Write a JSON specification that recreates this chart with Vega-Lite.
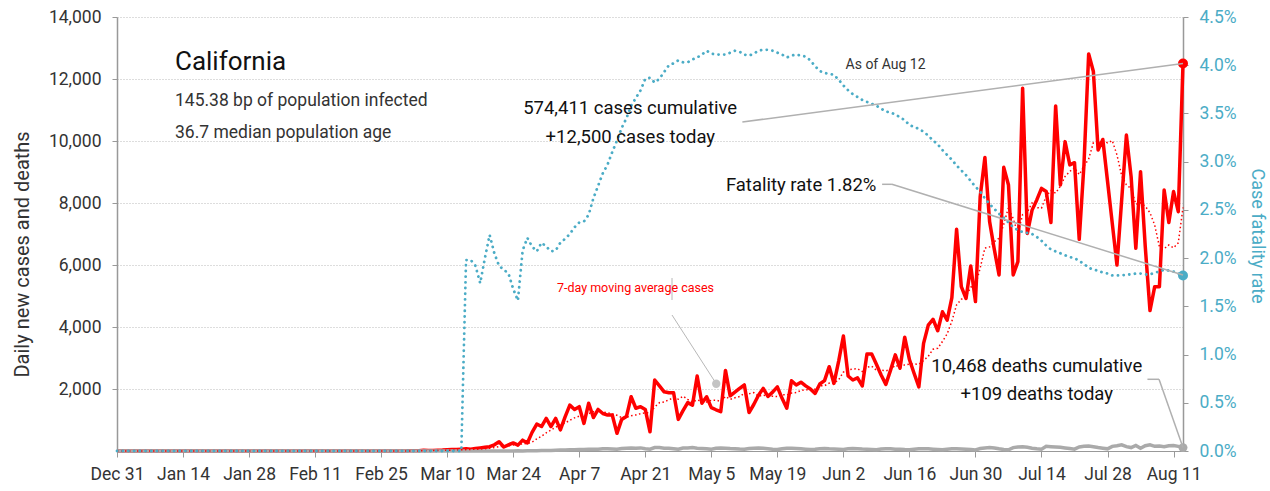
{
"$schema":"https://vega.github.io/schema/vega-lite/v6.json",
"width":1066,"height":434,
"autosize":{"type":"none"},
"padding":{"left":117,"top":17,"right":87,"bottom":40},
"background":"white",
"config":{"view":{"stroke":null},"font":"Roboto"},
"datasets":{"covid":[
{"date":"2019-12-31","cases":0,"deaths":0,"rate":0},
{"date":"2020-01-01","cases":0,"deaths":0,"rate":0},{"date":"2020-01-02","cases":0,"deaths":0,"rate":0},{"date":"2020-01-03","cases":0,"deaths":0,"rate":0},{"date":"2020-01-04","cases":0,"deaths":0,"rate":0},{"date":"2020-01-05","cases":0,"deaths":0,"rate":0},{"date":"2020-01-06","cases":0,"deaths":0,"rate":0},{"date":"2020-01-07","cases":0,"deaths":0,"rate":0},{"date":"2020-01-08","cases":0,"deaths":0,"rate":0},{"date":"2020-01-09","cases":0,"deaths":0,"rate":0},{"date":"2020-01-10","cases":0,"deaths":0,"rate":0},
{"date":"2020-01-11","cases":0,"deaths":0,"rate":0},{"date":"2020-01-12","cases":0,"deaths":0,"rate":0},{"date":"2020-01-13","cases":0,"deaths":0,"rate":0},{"date":"2020-01-14","cases":0,"deaths":0,"rate":0},{"date":"2020-01-15","cases":0,"deaths":0,"rate":0},{"date":"2020-01-16","cases":0,"deaths":0,"rate":0},{"date":"2020-01-17","cases":0,"deaths":0,"rate":0},{"date":"2020-01-18","cases":0,"deaths":0,"rate":0},{"date":"2020-01-19","cases":0,"deaths":0,"rate":0},{"date":"2020-01-20","cases":0,"deaths":0,"rate":0},
{"date":"2020-01-21","cases":0,"deaths":0,"rate":0},{"date":"2020-01-22","cases":0,"deaths":0,"rate":0},{"date":"2020-01-23","cases":0,"deaths":0,"rate":0},{"date":"2020-01-24","cases":0,"deaths":0,"rate":0},{"date":"2020-01-25","cases":0,"deaths":0,"rate":0},{"date":"2020-01-26","cases":0,"deaths":0,"rate":0},{"date":"2020-01-27","cases":0,"deaths":0,"rate":0},{"date":"2020-01-28","cases":0,"deaths":0,"rate":0},{"date":"2020-01-29","cases":0,"deaths":0,"rate":0},{"date":"2020-01-30","cases":0,"deaths":0,"rate":0},{"date":"2020-01-31","cases":0,"deaths":0,"rate":0},
{"date":"2020-02-01","cases":0,"deaths":0,"rate":0},{"date":"2020-02-02","cases":0,"deaths":0,"rate":0},{"date":"2020-02-03","cases":0,"deaths":0,"rate":0},{"date":"2020-02-04","cases":0,"deaths":0,"rate":0},{"date":"2020-02-05","cases":0,"deaths":0,"rate":0},{"date":"2020-02-06","cases":0,"deaths":0,"rate":0},{"date":"2020-02-07","cases":0,"deaths":0,"rate":0},{"date":"2020-02-08","cases":0,"deaths":0,"rate":0},{"date":"2020-02-09","cases":0,"deaths":0,"rate":0},{"date":"2020-02-10","cases":0,"deaths":0,"rate":0},
{"date":"2020-02-11","cases":0,"deaths":0,"rate":0},{"date":"2020-02-12","cases":0,"deaths":0,"rate":0},{"date":"2020-02-13","cases":0,"deaths":0,"rate":0},{"date":"2020-02-14","cases":0,"deaths":0,"rate":0},{"date":"2020-02-15","cases":0,"deaths":0,"rate":0},{"date":"2020-02-16","cases":0,"deaths":0,"rate":0},{"date":"2020-02-17","cases":0,"deaths":0,"rate":0},{"date":"2020-02-18","cases":0,"deaths":0,"rate":0},{"date":"2020-02-19","cases":0,"deaths":0,"rate":0},{"date":"2020-02-20","cases":0,"deaths":0,"rate":0},
{"date":"2020-02-21","cases":0,"deaths":0,"rate":0},{"date":"2020-02-22","cases":0,"deaths":0,"rate":0},{"date":"2020-02-23","cases":0,"deaths":0,"rate":0},{"date":"2020-02-24","cases":0,"deaths":0,"rate":0},{"date":"2020-02-25","cases":0,"deaths":0,"rate":0},{"date":"2020-02-26","cases":0,"deaths":0,"rate":0},{"date":"2020-02-27","cases":0,"deaths":0,"rate":0},{"date":"2020-02-28","cases":0,"deaths":0,"rate":0},{"date":"2020-02-29","cases":0,"deaths":0,"rate":0},
{"date":"2020-03-01","cases":2,"deaths":0,"rate":0},{"date":"2020-03-02","cases":5,"deaths":0,"rate":0},{"date":"2020-03-03","cases":8,"deaths":0,"rate":0},{"date":"2020-03-04","cases":10,"deaths":0,"rate":0},{"date":"2020-03-05","cases":25,"deaths":0,"rate":0},{"date":"2020-03-06","cases":15,"deaths":0,"rate":0},{"date":"2020-03-07","cases":20,"deaths":0,"rate":0},{"date":"2020-03-08","cases":25,"deaths":0,"rate":0},{"date":"2020-03-09","cases":30,"deaths":0,"rate":0},{"date":"2020-03-10","cases":40,"deaths":0,"rate":0},
{"date":"2020-03-11","cases":50,"deaths":0,"rate":0},{"date":"2020-03-12","cases":45,"deaths":0,"rate":0},{"date":"2020-03-13","cases":60,"deaths":0,"rate":0},{"date":"2020-03-14","cases":70,"deaths":0,"rate":0.0198},{"date":"2020-03-15","cases":55,"deaths":0,"rate":0.0198},{"date":"2020-03-16","cases":80,"deaths":1,"rate":0.0192},{"date":"2020-03-17","cases":100,"deaths":0,"rate":0.0174},{"date":"2020-03-18","cases":120,"deaths":0,"rate":0.0200},{"date":"2020-03-19","cases":140,"deaths":1,"rate":0.0224},{"date":"2020-03-20","cases":200,"deaths":1,"rate":0.0205},
{"date":"2020-03-21","cases":300,"deaths":2,"rate":0.0192},{"date":"2020-03-22","cases":130,"deaths":0,"rate":0.0188},{"date":"2020-03-23","cases":200,"deaths":3,"rate":0.0184},{"date":"2020-03-24","cases":260,"deaths":2,"rate":0.0168},{"date":"2020-03-25","cases":190,"deaths":5,"rate":0.0156},{"date":"2020-03-26","cases":350,"deaths":3,"rate":0.0208},{"date":"2020-03-27","cases":260,"deaths":8,"rate":0.0221},{"date":"2020-03-28","cases":600,"deaths":10,"rate":0.0212},{"date":"2020-03-29","cases":870,"deaths":12,"rate":0.0207},{"date":"2020-03-30","cases":790,"deaths":15,"rate":0.0216},{"date":"2020-03-31","cases":1050,"deaths":20,"rate":0.0212},
{"date":"2020-04-01","cases":790,"deaths":18,"rate":0.0207},{"date":"2020-04-02","cases":1050,"deaths":25,"rate":0.0208},{"date":"2020-04-03","cases":680,"deaths":30,"rate":0.0216},{"date":"2020-04-04","cases":1100,"deaths":35,"rate":0.0220},{"date":"2020-04-05","cases":1480,"deaths":40,"rate":0.0225},{"date":"2020-04-06","cases":1340,"deaths":38,"rate":0.0232},{"date":"2020-04-07","cases":1430,"deaths":45,"rate":0.0237},{"date":"2020-04-08","cases":890,"deaths":50,"rate":0.0238},{"date":"2020-04-09","cases":1540,"deaths":55,"rate":0.0245},{"date":"2020-04-10","cases":1080,"deaths":60,"rate":0.0262},
{"date":"2020-04-11","cases":1340,"deaths":58,"rate":0.0275},{"date":"2020-04-12","cases":1210,"deaths":70,"rate":0.0288},{"date":"2020-04-13","cases":1160,"deaths":75,"rate":0.0297},{"date":"2020-04-14","cases":1160,"deaths":65,"rate":0.0310},{"date":"2020-04-15","cases":570,"deaths":55,"rate":0.0322},{"date":"2020-04-16","cases":1020,"deaths":80,"rate":0.0335},{"date":"2020-04-17","cases":1110,"deaths":90,"rate":0.0345},{"date":"2020-04-18","cases":1750,"deaths":95,"rate":0.0358},{"date":"2020-04-19","cases":1380,"deaths":85,"rate":0.0366},{"date":"2020-04-20","cases":1430,"deaths":100,"rate":0.0374},
{"date":"2020-04-21","cases":1340,"deaths":70,"rate":0.0386},{"date":"2020-04-22","cases":620,"deaths":60,"rate":0.0387},{"date":"2020-04-23","cases":2290,"deaths":110,"rate":0.0382},{"date":"2020-04-24","cases":2100,"deaths":115,"rate":0.0386},{"date":"2020-04-25","cases":1910,"deaths":90,"rate":0.0393},{"date":"2020-04-26","cases":1880,"deaths":85,"rate":0.0400},{"date":"2020-04-27","cases":1880,"deaths":75,"rate":0.0402},{"date":"2020-04-28","cases":1020,"deaths":60,"rate":0.0405},{"date":"2020-04-29","cases":1300,"deaths":95,"rate":0.0403},{"date":"2020-04-30","cases":1560,"deaths":100,"rate":0.0403},
{"date":"2020-05-01","cases":1480,"deaths":110,"rate":0.0406},{"date":"2020-05-02","cases":2420,"deaths":90,"rate":0.0408},{"date":"2020-05-03","cases":1540,"deaths":80,"rate":0.0411},{"date":"2020-05-04","cases":1750,"deaths":70,"rate":0.0415},{"date":"2020-05-05","cases":1400,"deaths":60,"rate":0.0412},{"date":"2020-05-06","cases":1330,"deaths":85,"rate":0.0411},{"date":"2020-05-07","cases":1270,"deaths":95,"rate":0.0411},{"date":"2020-05-08","cases":2600,"deaths":90,"rate":0.0411},{"date":"2020-05-09","cases":1780,"deaths":80,"rate":0.0413},{"date":"2020-05-10","cases":1900,"deaths":75,"rate":0.0415},
{"date":"2020-05-11","cases":2020,"deaths":65,"rate":0.0414},{"date":"2020-05-12","cases":2130,"deaths":60,"rate":0.0411},{"date":"2020-05-13","cases":1240,"deaths":80,"rate":0.0410},{"date":"2020-05-14","cases":1500,"deaths":90,"rate":0.0412},{"date":"2020-05-15","cases":1800,"deaths":95,"rate":0.0415},{"date":"2020-05-16","cases":2020,"deaths":85,"rate":0.0416},{"date":"2020-05-17","cases":1760,"deaths":70,"rate":0.0416},{"date":"2020-05-18","cases":1900,"deaths":55,"rate":0.0415},{"date":"2020-05-19","cases":2070,"deaths":50,"rate":0.0413},{"date":"2020-05-20","cases":1700,"deaths":75,"rate":0.0411},
{"date":"2020-05-21","cases":1380,"deaths":90,"rate":0.0408},{"date":"2020-05-22","cases":2265,"deaths":85,"rate":0.0410},{"date":"2020-05-23","cases":2130,"deaths":80,"rate":0.0411},{"date":"2020-05-24","cases":2220,"deaths":70,"rate":0.0410},{"date":"2020-05-25","cases":2100,"deaths":60,"rate":0.0409},{"date":"2020-05-26","cases":2000,"deaths":45,"rate":0.0405},{"date":"2020-05-27","cases":1860,"deaths":55,"rate":0.0399},{"date":"2020-05-28","cases":2160,"deaths":75,"rate":0.0394},{"date":"2020-05-29","cases":2270,"deaths":80,"rate":0.0392},{"date":"2020-05-30","cases":2720,"deaths":70,"rate":0.0391},{"date":"2020-05-31","cases":2180,"deaths":65,"rate":0.0390},
{"date":"2020-06-01","cases":2900,"deaths":60,"rate":0.0385},{"date":"2020-06-02","cases":3710,"deaths":50,"rate":0.0379},{"date":"2020-06-03","cases":2420,"deaths":70,"rate":0.0374},{"date":"2020-06-04","cases":2290,"deaths":80,"rate":0.0370},{"date":"2020-06-05","cases":2360,"deaths":75,"rate":0.0367},{"date":"2020-06-06","cases":2100,"deaths":65,"rate":0.0364},{"date":"2020-06-07","cases":3130,"deaths":60,"rate":0.0362},{"date":"2020-06-08","cases":3130,"deaths":50,"rate":0.0360},{"date":"2020-06-09","cases":2800,"deaths":40,"rate":0.0358},{"date":"2020-06-10","cases":2450,"deaths":65,"rate":0.0355},
{"date":"2020-06-11","cases":2150,"deaths":70,"rate":0.0352},{"date":"2020-06-12","cases":2610,"deaths":75,"rate":0.0351},{"date":"2020-06-13","cases":3100,"deaths":60,"rate":0.0349},{"date":"2020-06-14","cases":2670,"deaths":55,"rate":0.0346},{"date":"2020-06-15","cases":3670,"deaths":45,"rate":0.0343},{"date":"2020-06-16","cases":2950,"deaths":40,"rate":0.0338},{"date":"2020-06-17","cases":2500,"deaths":60,"rate":0.0336},{"date":"2020-06-18","cases":2070,"deaths":70,"rate":0.0334},{"date":"2020-06-19","cases":3470,"deaths":75,"rate":0.0331},{"date":"2020-06-20","cases":4060,"deaths":70,"rate":0.0327},
{"date":"2020-06-21","cases":4250,"deaths":60,"rate":0.0322},{"date":"2020-06-22","cases":3880,"deaths":50,"rate":0.0318},{"date":"2020-06-23","cases":4490,"deaths":40,"rate":0.0312},{"date":"2020-06-24","cases":4220,"deaths":60,"rate":0.0307},{"date":"2020-06-25","cases":4950,"deaths":70,"rate":0.0302},{"date":"2020-06-26","cases":7150,"deaths":75,"rate":0.0296},{"date":"2020-06-27","cases":5300,"deaths":65,"rate":0.0291},{"date":"2020-06-28","cases":4920,"deaths":55,"rate":0.0286},{"date":"2020-06-29","cases":5970,"deaths":45,"rate":0.0280},{"date":"2020-06-30","cases":4820,"deaths":35,"rate":0.0274},
{"date":"2020-07-01","cases":8200,"deaths":80,"rate":0.0269},{"date":"2020-07-02","cases":9470,"deaths":100,"rate":0.0262},{"date":"2020-07-03","cases":7400,"deaths":110,"rate":0.0256},{"date":"2020-07-04","cases":6500,"deaths":95,"rate":0.0251},{"date":"2020-07-05","cases":5680,"deaths":70,"rate":0.0246},{"date":"2020-07-06","cases":9150,"deaths":50,"rate":0.0242},{"date":"2020-07-07","cases":8580,"deaths":40,"rate":0.0237},{"date":"2020-07-08","cases":5680,"deaths":110,"rate":0.0232},{"date":"2020-07-09","cases":6110,"deaths":130,"rate":0.0229},{"date":"2020-07-10","cases":11700,"deaths":140,"rate":0.0227},
{"date":"2020-07-11","cases":7020,"deaths":120,"rate":0.0226},{"date":"2020-07-12","cases":7770,"deaths":90,"rate":0.0225},{"date":"2020-07-13","cases":8100,"deaths":70,"rate":0.0222},{"date":"2020-07-14","cases":8470,"deaths":60,"rate":0.0218},{"date":"2020-07-15","cases":8370,"deaths":150,"rate":0.0213},{"date":"2020-07-16","cases":7370,"deaths":140,"rate":0.0209},{"date":"2020-07-17","cases":11130,"deaths":130,"rate":0.0207},{"date":"2020-07-18","cases":8580,"deaths":120,"rate":0.0205},{"date":"2020-07-19","cases":9980,"deaths":100,"rate":0.0203},{"date":"2020-07-20","cases":9230,"deaths":80,"rate":0.0201},
{"date":"2020-07-21","cases":9300,"deaths":60,"rate":0.0200},{"date":"2020-07-22","cases":6830,"deaths":130,"rate":0.0197},{"date":"2020-07-23","cases":9230,"deaths":150,"rate":0.0194},{"date":"2020-07-24","cases":12810,"deaths":160,"rate":0.0190},{"date":"2020-07-25","cases":12240,"deaths":140,"rate":0.0188},{"date":"2020-07-26","cases":9710,"deaths":110,"rate":0.0187},{"date":"2020-07-27","cases":10050,"deaths":90,"rate":0.0185},{"date":"2020-07-28","cases":8700,"deaths":70,"rate":0.0184},{"date":"2020-07-29","cases":7350,"deaths":150,"rate":0.0182},{"date":"2020-07-30","cases":6000,"deaths":170,"rate":0.0182},{"date":"2020-07-31","cases":8100,"deaths":200,"rate":0.0182},
{"date":"2020-08-01","cases":10190,"deaths":140,"rate":0.0183},{"date":"2020-08-02","cases":8850,"deaths":110,"rate":0.0183},{"date":"2020-08-03","cases":6540,"deaths":180,"rate":0.0184},{"date":"2020-08-04","cases":9010,"deaths":90,"rate":0.0184},{"date":"2020-08-05","cases":6590,"deaths":170,"rate":0.0183},{"date":"2020-08-06","cases":4530,"deaths":200,"rate":0.0183},{"date":"2020-08-07","cases":5300,"deaths":150,"rate":0.0185},{"date":"2020-08-08","cases":5300,"deaths":160,"rate":0.0186},{"date":"2020-08-09","cases":8420,"deaths":140,"rate":0.0188},{"date":"2020-08-10","cases":7370,"deaths":170,"rate":0.0187},
{"date":"2020-08-11","cases":8370,"deaths":180,"rate":0.0186},{"date":"2020-08-12","cases":7720,"deaths":150,"rate":0.0184},{"date":"2020-08-13","cases":12500,"deaths":109,"rate":0.0182}
]},
"data":{"name":"covid"},
"resolve":{"scale":{"y":"independent"}},
"layer":[
  {"mark":{"type":"line","color":"#ff0000","strokeWidth":3.5,"strokeJoin":"round"},
   "encoding":{
    "x":{"field":"date","type":"temporal",
     "scale":{"type":"utc","domain":[{"year":2019,"month":12,"date":31,"utc":true},{"year":2020,"month":8,"date":13,"utc":true}]},
     "axis":{"title":null,"grid":false,"format":"%b %-d","labelFontSize":17.5,"labelColor":"#333333","labelPadding":8,"tickSize":6,"tickColor":"#999999","domainColor":"#999999","labelOverlap":false,"labelFlush":false,"labelBound":false,
      "values":[{"year":2019,"month":12,"date":31,"utc":true},{"year":2020,"month":1,"date":14,"utc":true},{"year":2020,"month":1,"date":28,"utc":true},{"year":2020,"month":2,"date":11,"utc":true},{"year":2020,"month":2,"date":25,"utc":true},{"year":2020,"month":3,"date":10,"utc":true},{"year":2020,"month":3,"date":24,"utc":true},{"year":2020,"month":4,"date":7,"utc":true},{"year":2020,"month":4,"date":21,"utc":true},{"year":2020,"month":5,"date":5,"utc":true},{"year":2020,"month":5,"date":19,"utc":true},{"year":2020,"month":6,"date":2,"utc":true},{"year":2020,"month":6,"date":16,"utc":true},{"year":2020,"month":6,"date":30,"utc":true},{"year":2020,"month":7,"date":14,"utc":true},{"year":2020,"month":7,"date":28,"utc":true},{"year":2020,"month":8,"date":11,"utc":true}]}},
    "y":{"field":"cases","type":"quantitative","scale":{"domain":[0,14000],"nice":false},
     "axis":{"values":[2000,4000,6000,8000,10000,12000,14000],"format":",d","title":"Daily new cases and deaths","grid":true,"gridColor":"#bbbbbb","gridDash":[1,2],"domainColor":"#999999","domainWidth":1.5,"tickColor":"#999999","tickSize":5,"labelFontSize":17.5,"labelColor":"#333333","labelPadding":11,"titleFontSize":20,"titleFontWeight":"normal","titleColor":"#333333","titleX":-95,"titleY":360,"titleAngle":-90,"titleAlign":"left","titleBaseline":"middle"}}}},
  {"mark":{"type":"line","color":"#aaaaaa","strokeWidth":3.5},
   "encoding":{"x":{"field":"date","type":"temporal"},
    "y":{"field":"deaths","type":"quantitative","scale":{"domain":[0,14000],"nice":false},"axis":null}}},
  {"transform":[{"window":[{"op":"mean","field":"cases","as":"ma"}],"frame":[-6,0],"sort":[{"field":"date","order":"ascending"}]}],
   "mark":{"type":"line","color":"#ff0000","strokeWidth":1.5,"strokeDash":[1.5,2.5]},
   "encoding":{"x":{"field":"date","type":"temporal"},
    "y":{"field":"ma","type":"quantitative","scale":{"domain":[0,14000],"nice":false},"axis":null}}},
  {"transform":[{"filter":"utcmonth(datum.date) == 7 && utcdate(datum.date) == 13"}],
   "mark":{"type":"circle","color":"#ff0000","size":100,"opacity":1},
   "encoding":{"x":{"field":"date","type":"temporal"},
    "y":{"field":"cases","type":"quantitative","scale":{"domain":[0,14000],"nice":false},"axis":null}}},
  {"transform":[{"filter":"utcmonth(datum.date) == 7 && utcdate(datum.date) == 13"}],
   "mark":{"type":"circle","color":"#aaaaaa","size":80,"opacity":1},
   "encoding":{"x":{"field":"date","type":"temporal"},
    "y":{"field":"deaths","type":"quantitative","scale":{"domain":[0,14000],"nice":false},"axis":null}}},
  {"mark":{"type":"line","color":"#4bacc6","strokeWidth":2.8,"strokeDash":[0.1,5.6],"strokeCap":"round"},
   "encoding":{"x":{"field":"date","type":"temporal"},
    "y":{"field":"rate","type":"quantitative","scale":{"domain":[0,0.045],"nice":false},
     "axis":{"orient":"right","values":[0,0.005,0.01,0.015,0.02,0.025,0.03,0.035,0.04,0.045],"format":".1%","grid":false,"title":"Case fatality rate","titleColor":"#4bacc6","labelColor":"#4bacc6","labelFontSize":17.5,"domainColor":"#999999","domainWidth":1.5,"tickColor":"#999999","tickSize":5,"labelPadding":11,"titleFontSize":18,"titleFontWeight":"normal","titleX":73,"titleY":151,"titleAngle":90,"titleAlign":"left","titleBaseline":"middle"}}}},
  {"transform":[{"filter":"utcmonth(datum.date) == 7 && utcdate(datum.date) == 13"}],
   "mark":{"type":"circle","color":"#4bacc6","size":100,"opacity":1},
   "encoding":{"x":{"field":"date","type":"temporal"},
    "y":{"field":"rate","type":"quantitative","scale":{"domain":[0,0.045],"nice":false},"axis":null}}},
  {"data":{"values":[{}]},"mark":{"type":"rule","color":"#b0b0b0","strokeWidth":1.5},
   "encoding":{"x":{"datum":{"year":2020,"month":5,"date":11,"hours":14,"utc":true},"type":"temporal"},
     "x2":{"datum":{"year":2020,"month":8,"date":13,"utc":true}},
     "y":{"datum":10613,"type":"quantitative","scale":{"domain":[0,14000],"nice":false},"axis":null},
     "y2":{"datum":12500}}},
  {"data":{"values":[{}]},"mark":{"type":"rule","color":"#b0b0b0","strokeWidth":1.5},
   "encoding":{"x":{"datum":{"year":2020,"month":6,"date":10,"hours":5,"utc":true},"type":"temporal"},
     "x2":{"datum":{"year":2020,"month":6,"date":12,"hours":7,"utc":true}},
     "y":{"datum":8603,"type":"quantitative","scale":{"domain":[0,14000],"nice":false},"axis":null},"y2":{"datum":8603}}},
  {"data":{"values":[{}]},"mark":{"type":"rule","color":"#b0b0b0","strokeWidth":1.5},
   "encoding":{"x":{"datum":{"year":2020,"month":6,"date":12,"hours":7,"utc":true},"type":"temporal"},
     "x2":{"datum":{"year":2020,"month":8,"date":13,"utc":true}},
     "y":{"datum":8603,"type":"quantitative","scale":{"domain":[0,14000],"nice":false},"axis":null},"y2":{"datum":5677}}},
  {"data":{"values":[{}]},"mark":{"type":"rule","color":"#b0b0b0","strokeWidth":1.5},
   "encoding":{"x":{"datum":{"year":2020,"month":8,"date":5,"hours":11,"utc":true},"type":"temporal"},
     "x2":{"datum":{"year":2020,"month":8,"date":7,"hours":22,"utc":true}},
     "y":{"datum":2313,"type":"quantitative","scale":{"domain":[0,14000],"nice":false},"axis":null},"y2":{"datum":2313}}},
  {"data":{"values":[{}]},"mark":{"type":"rule","color":"#b0b0b0","strokeWidth":1.5},
   "encoding":{"x":{"datum":{"year":2020,"month":8,"date":7,"hours":22,"utc":true},"type":"temporal"},
     "x2":{"datum":{"year":2020,"month":8,"date":13,"utc":true}},
     "y":{"datum":2313,"type":"quantitative","scale":{"domain":[0,14000],"nice":false},"axis":null},"y2":{"datum":109}}},
  {"data":{"values":[{}]},"mark":{"type":"rule","color":"#b8b8b8","strokeWidth":1},
   "encoding":{"x":{"datum":{"year":2020,"month":4,"date":26,"hours":16,"utc":true},"type":"temporal"},
     "x2":{"datum":{"year":2020,"month":4,"date":26,"hours":16,"utc":true}},
     "y":{"datum":5581,"type":"quantitative","scale":{"domain":[0,14000],"nice":false},"axis":null},"y2":{"datum":4871}}},
  {"data":{"values":[{}]},"mark":{"type":"rule","color":"#b8b8b8","strokeWidth":1},
   "encoding":{"x":{"datum":{"year":2020,"month":4,"date":26,"hours":16,"utc":true},"type":"temporal"},
     "x2":{"datum":{"year":2020,"month":5,"date":6,"hours":1,"utc":true}},
     "y":{"datum":4387,"type":"quantitative","scale":{"domain":[0,14000],"nice":false},"axis":null},"y2":{"datum":2171}}},
  {"data":{"values":[{}]},"mark":{"type":"circle","color":"#c4c4c4","size":70,"opacity":1},
   "encoding":{"x":{"datum":{"year":2020,"month":5,"date":6,"hours":1,"utc":true},"type":"temporal"},
     "y":{"datum":2171,"type":"quantitative","scale":{"domain":[0,14000],"nice":false},"axis":null}}},
  {"data":{"values":[{}]},"mark":{"type":"text","text":"California","fontSize":26,"align":"left","baseline":"middle","color":"#111111"},
   "encoding":{"x":{"datum":{"year":2020,"month":1,"date":12,"hours":7,"utc":true},"type":"temporal"},
     "y":{"datum":12550,"type":"quantitative","scale":{"domain":[0,14000],"nice":false},"axis":null}}},
  {"data":{"values":[{}]},"mark":{"type":"text","text":"145.38 bp of population infected","fontSize":17.5,"align":"left","baseline":"middle","color":"#333333"},
   "encoding":{"x":{"datum":{"year":2020,"month":1,"date":12,"hours":7,"utc":true},"type":"temporal"},
     "y":{"datum":11290,"type":"quantitative","scale":{"domain":[0,14000],"nice":false},"axis":null}}},
  {"data":{"values":[{}]},"mark":{"type":"text","text":"36.7 median population age","fontSize":17.5,"align":"left","baseline":"middle","color":"#333333"},
   "encoding":{"x":{"datum":{"year":2020,"month":1,"date":12,"hours":7,"utc":true},"type":"temporal"},
     "y":{"datum":10258,"type":"quantitative","scale":{"domain":[0,14000],"nice":false},"axis":null}}},
  {"data":{"values":[{}]},"mark":{"type":"text","text":"As of Aug 12","fontSize":14,"align":"left","baseline":"middle","color":"#333333"},
   "encoding":{"x":{"datum":{"year":2020,"month":6,"date":2,"hours":11,"utc":true},"type":"temporal"},
     "y":{"datum":12452,"type":"quantitative","scale":{"domain":[0,14000],"nice":false},"axis":null}}},
  {"data":{"values":[{}]},"mark":{"type":"text","text":"574,411 cases cumulative","fontSize":18.5,"align":"center","baseline":"middle","color":"#111111"},
   "encoding":{"x":{"datum":{"year":2020,"month":4,"date":17,"hours":19,"utc":true},"type":"temporal"},
     "y":{"datum":11065,"type":"quantitative","scale":{"domain":[0,14000],"nice":false},"axis":null}}},
  {"data":{"values":[{}]},"mark":{"type":"text","text":"+12,500 cases today","fontSize":18.5,"align":"center","baseline":"middle","color":"#111111"},
   "encoding":{"x":{"datum":{"year":2020,"month":4,"date":17,"hours":20,"utc":true},"type":"temporal"},
     "y":{"datum":10129,"type":"quantitative","scale":{"domain":[0,14000],"nice":false},"axis":null}}},
  {"data":{"values":[{}]},"mark":{"type":"text","text":"Fatality rate 1.82%","fontSize":18.5,"align":"right","baseline":"middle","color":"#111111"},
   "encoding":{"x":{"datum":{"year":2020,"month":6,"date":9,"utc":true},"type":"temporal"},
     "y":{"datum":8581,"type":"quantitative","scale":{"domain":[0,14000],"nice":false},"axis":null}}},
  {"data":{"values":[{}]},"mark":{"type":"text","text":"10,468 deaths cumulative","fontSize":18.5,"align":"center","baseline":"middle","color":"#111111"},
   "encoding":{"x":{"datum":{"year":2020,"month":7,"date":13,"utc":true},"type":"temporal"},
     "y":{"datum":2742,"type":"quantitative","scale":{"domain":[0,14000],"nice":false},"axis":null}}},
  {"data":{"values":[{}]},"mark":{"type":"text","text":"+109 deaths today","fontSize":18.5,"align":"center","baseline":"middle","color":"#111111"},
   "encoding":{"x":{"datum":{"year":2020,"month":7,"date":13,"utc":true},"type":"temporal"},
     "y":{"datum":1839,"type":"quantitative","scale":{"domain":[0,14000],"nice":false},"axis":null}}},
  {"data":{"values":[{}]},"mark":{"type":"text","text":"7-day moving average cases","fontSize":12.5,"align":"center","baseline":"middle","color":"#ff0000"},
   "encoding":{"x":{"datum":{"year":2020,"month":4,"date":18,"hours":22,"utc":true},"type":"temporal"},
     "y":{"datum":5248,"type":"quantitative","scale":{"domain":[0,14000],"nice":false},"axis":null}}}
]
}
